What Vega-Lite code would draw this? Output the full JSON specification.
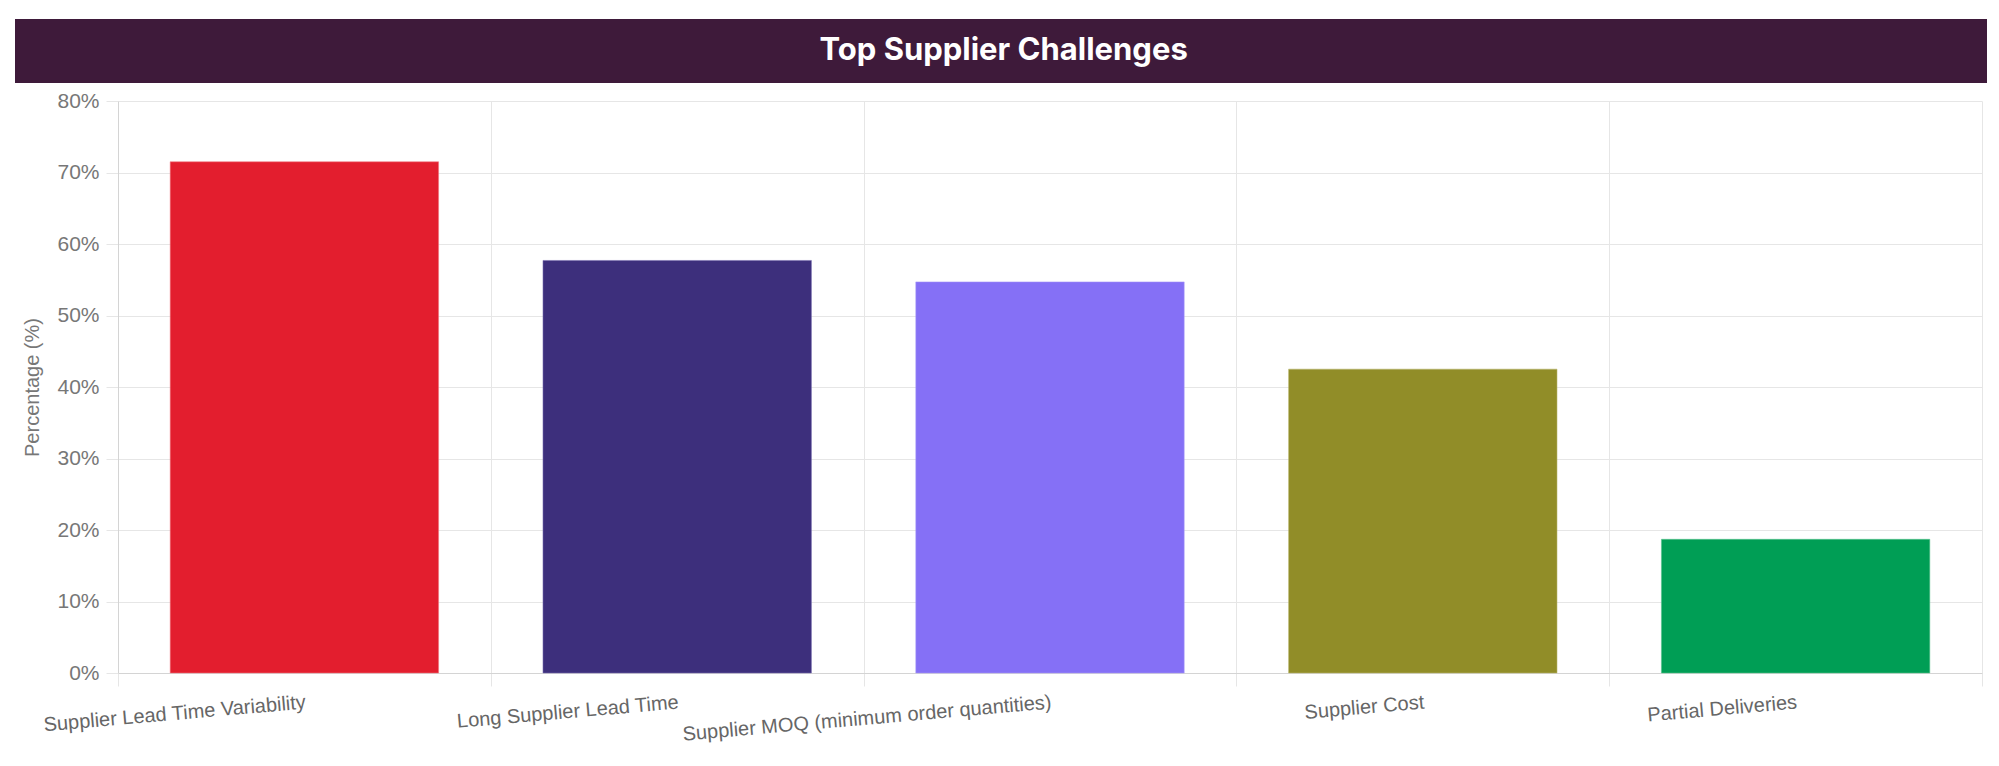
{
  "$schema": "https://vega.github.io/schema/vega-lite/v6.json",
  "padding": {"left": 13, "top": 19, "right": 10, "bottom": 5},
  "background": "white",
  "config": {"font": "Liberation Sans", "view": {"stroke": null}},
  "spacing": 7,
  "columns": 1,
  "concat": [
    {
      "width": 1869,
      "height": 64,
      "view": {"fill": "#3e1a3a", "stroke": null},
      "data": {"values": [{"t": "Top Supplier Challenges"}]},
      "mark": {"type": "text", "font": "Inter", "fontSize": 31, "fontWeight": 700, "color": "white"},
      "encoding": {
        "text": {"field": "t", "type": "nominal"},
        "x": {"datum": 0.5, "type": "quantitative", "scale": {"domain": [0, 1.0552]}, "axis": null},
        "y": {
          "field": "t", "type": "nominal",
          "axis": {"title": null, "labels": false, "ticks": false, "grid": false, "domain": true, "domainColor": "#3e1a3a", "domainWidth": 206, "translate": 0}
        }
      }
    },
    {
      "width": 1864,
      "height": 572,
      "data": {
        "values": [
          {"challenge": "Supplier Lead Time Variability", "pct": 71.5},
          {"challenge": "Long Supplier Lead Time", "pct": 57.7},
          {"challenge": "Supplier MOQ (minimum order quantities)", "pct": 54.7},
          {"challenge": "Supplier Cost", "pct": 42.5},
          {"challenge": "Partial Deliveries", "pct": 18.7}
        ]
      },
      "mark": {"type": "bar", "width": {"band": 0.72}, "strokeWidth": 1, "strokeOpacity": 0.55},
      "encoding": {
        "x": {
          "field": "challenge", "type": "nominal", "sort": null,
          "scale": {"paddingInner": 0, "paddingOuter": 0},
          "axis": {
            "title": null, "tickBand": "extent", "grid": true,
            "gridColor": "#e6e6e6", "tickColor": "#e6e6e6", "tickSize": 13,
            "domainColor": "#d4d4d4", "labelAngle": -5, "labelAlign": "right",
            "labelBaseline": "top", "labelFontSize": 20, "labelColor": "#666666",
            "labelPadding": 6, "labelOverlap": false, "labelLimit": 600
          }
        },
        "y": {
          "field": "pct", "type": "quantitative",
          "scale": {"domain": [0, 80]},
          "axis": {
            "title": ["", "Percentage (%)"], "titleLineHeight": 9, "values": [0, 10, 20, 30, 40, 50, 60, 70, 80],
            "labelExpr": "datum.value + '%'", "gridColor": "#e6e6e6",
            "tickColor": "#e6e6e6", "tickSize": 12, "domainColor": "#d4d4d4",
            "labelFontSize": 21, "labelColor": "#777777", "labelPadding": 7,
            "titleFontSize": 20, "titleFontWeight": "normal", "titleColor": "#777777",
            "titlePadding": 14
          }
        },
        "color": {
          "field": "challenge", "type": "nominal", "sort": null, "legend": null,
          "scale": {"range": ["#e31e2e", "#3d2f7c", "#8570f6", "#918d28", "#009e55"]}
        },
        "stroke": {
          "field": "challenge", "type": "nominal", "sort": null, "legend": null,
          "scale": {"range": ["#f07a82", "#7a6fb0", "#a99af8", "#bcb870", "#5cc490"]}
        }
      }
    }
  ]
}
